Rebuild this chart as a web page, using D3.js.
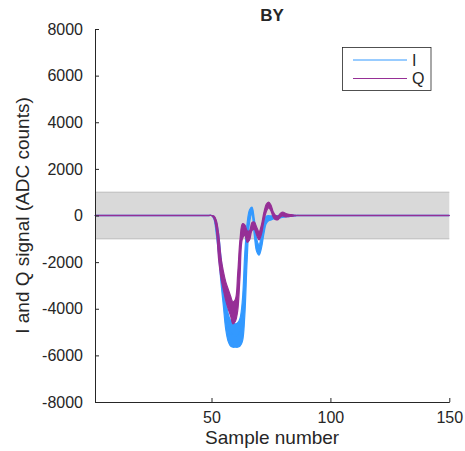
<!DOCTYPE html>
<html>
<head>
<meta charset="utf-8">
<script src="https://cdn.jsdelivr.net/npm/d3@7"></script>
<style>
  body { margin: 0; background: #fff; }
  svg text { font-family: "Liberation Sans", Arial, Helvetica, sans-serif; fill: #262626; }
</style>
</head>
<body>
<svg id="chart" width="465" height="451"></svg>
<script>
"use strict";

// samples 1..150, the pulse window starts at sample 49, zero everywhere else
var sampleCount = 150;
var windowStart = 49;

// envelope of the I traces (ADC counts), samples 49..86
var iLow  = [0, 0, -150, -800, -1700, -2900, -3900, -4900, -5400, -5600, -5650, -5650, -5650, -5600,
             -5400, -4300, -1900, -300, 50, -850, -1550, -1700, -1400, -800, -350, -230, -190, -150,
             -150, -130, -100, -80, -60, -50, -40, -30, -20, 0];
var iHigh = [0, 0, -30, -250, -800, -1800, -2800, -3600, -4200, -4500, -4600, -4650, -4600, -4400,
             -3600, -1600, -300, 250, 360, -150, -1000, -1250, -800, -250, -30, 0, -20, 0,
             0, 0, 20, 40, 40, 30, 20, 20, 10, 0];

// envelope of the Q traces (ADC counts), samples 49..86
var qLow  = [0, 0, -120, -600, -1900, -2700, -3200, -3650, -4000, -4300, -4650, -4550, -4100, -2600,
             -1000, -850, -1150, -1050, -650, -600, -850, -1050, -800, -250, 150, 330, 200, -80,
             -180, -180, -60, -20, -60, -50, -40, -30, 0, 0];
var qHigh = [0, 0, -20, -200, -800, -1800, -2400, -2850, -3150, -3450, -3700, -3600, -2500, -1000,
             -350, -400, -650, -650, -300, -280, -500, -700, -400, 120, 480, 580, 450, 150,
             0, -20, 100, 150, 100, 60, 40, 30, 0, 0];

var yTicks = [-8000, -6000, -4000, -2000, 0, 2000, 4000, 6000, 8000];
var xTicks = [50, 100, 150];
var bandLimit = 1000;

var iColor = '#3399ff';
var qColor = '#962f96';
var inkColor = '#262626';

function fullSeries(low, high) {
  var out = [];
  for (var s = 1; s <= sampleCount; s++) {
    var k = s - windowStart;
    if (k >= 0 && k < low.length) out.push({ s: s, lo: low[k], hi: high[k] });
    else out.push({ s: s, lo: 0, hi: 0 });
  }
  return out;
}

var box = { left: 95, right: 449.3, top: 29, bottom: 402 };

var svg = d3.select('#chart');

var x = d3.scaleLinear().domain([1, 150]).range([box.left, box.right]);
var y = d3.scaleLinear().domain([-8000, 8000]).range([box.bottom, box.top]);

// grey +-1000 band
svg.append('rect')
  .attr('x', box.left)
  .attr('y', y(bandLimit))
  .attr('width', box.right - box.left)
  .attr('height', y(-bandLimit) - y(bandLimit))
  .attr('fill', '#d9d9d9');

[bandLimit, -bandLimit].forEach(function(v) {
  svg.append('line')
    .attr('x1', box.left).attr('x2', box.right)
    .attr('y1', y(v)).attr('y2', y(v))
    .attr('stroke', '#bcbcbc')
    .attr('stroke-width', 1);
});

var area = d3.area()
  .x(function(d) { return x(d.s); })
  .y0(function(d) { return y(d.lo); })
  .y1(function(d) { return y(d.hi); })
  .curve(d3.curveCatmullRom);

var midLine = d3.line()
  .x(function(d) { return x(d.s); })
  .y(function(d) { return y((d.lo + d.hi) / 2); })
  .curve(d3.curveCatmullRom);

function drawBand(data, color) {
  svg.append('path')
    .datum(data)
    .attr('d', area)
    .attr('fill', color)
    .attr('stroke', color)
    .attr('stroke-width', 1.2)
    .attr('stroke-linejoin', 'round');
  svg.append('path')
    .datum(data)
    .attr('d', midLine)
    .attr('fill', 'none')
    .attr('stroke', color)
    .attr('stroke-width', 1.3);
}

drawBand(fullSeries(iLow, iHigh), iColor);
drawBand(fullSeries(qLow, qHigh), qColor);

// axes
var xAxis = d3.axisBottom(x)
  .tickValues(xTicks)
  .tickSizeInner(-4)
  .tickSizeOuter(0)
  .tickPadding(10);

var yAxis = d3.axisLeft(y)
  .tickValues(yTicks)
  .tickSizeInner(-4)
  .tickSizeOuter(0)
  .tickPadding(12)
  .tickFormat(function(d) { return String(d); });

var gx = svg.append('g')
  .attr('transform', 'translate(0,' + box.bottom + ')')
  .call(xAxis);

var gy = svg.append('g')
  .attr('transform', 'translate(' + box.left + ',0)')
  .call(yAxis);

[gx, gy].forEach(function(g) {
  g.selectAll('path, line').attr('stroke', inkColor);
  g.selectAll('text')
    .attr('font-size', 16)
    .attr('font-family', '"Liberation Sans", Arial, Helvetica, sans-serif')
    .attr('fill', inkColor);
});

// labels
svg.append('text')
  .attr('x', (box.left + box.right) / 2)
  .attr('y', 444)
  .attr('text-anchor', 'middle')
  .attr('font-size', 19)
  .text('Sample number');

svg.append('text')
  .attr('transform', 'translate(29,' + (box.top + box.bottom) / 2 + ') rotate(-90)')
  .attr('text-anchor', 'middle')
  .attr('font-size', 19)
  .text('I and Q signal (ADC counts)');

svg.append('text')
  .attr('x', (box.left + box.right) / 2)
  .attr('y', 21)
  .attr('text-anchor', 'middle')
  .attr('font-size', 17)
  .attr('font-weight', 'bold')
  .text('BY');

// legend
var legend = svg.append('g');

legend.append('rect')
  .attr('x', 342.5).attr('y', 47.5)
  .attr('width', 88.5).attr('height', 43)
  .attr('fill', '#fff')
  .attr('stroke', '#262626')
  .attr('stroke-width', 0.8);

var legendItems = [
  { name: 'I', color: iColor, yPos: 60 },
  { name: 'Q', color: qColor, yPos: 78.5 }
];

legendItems.forEach(function(d) {
  legend.append('line')
    .attr('x1', 353).attr('x2', 407)
    .attr('y1', d.yPos).attr('y2', d.yPos)
    .attr('stroke', d.color)
    .attr('stroke-width', 1);
  legend.append('text')
    .attr('x', 412)
    .attr('y', d.yPos + 5.5)
    .attr('font-size', 16)
    .text(d.name);
});
</script>
</body>
</html>
